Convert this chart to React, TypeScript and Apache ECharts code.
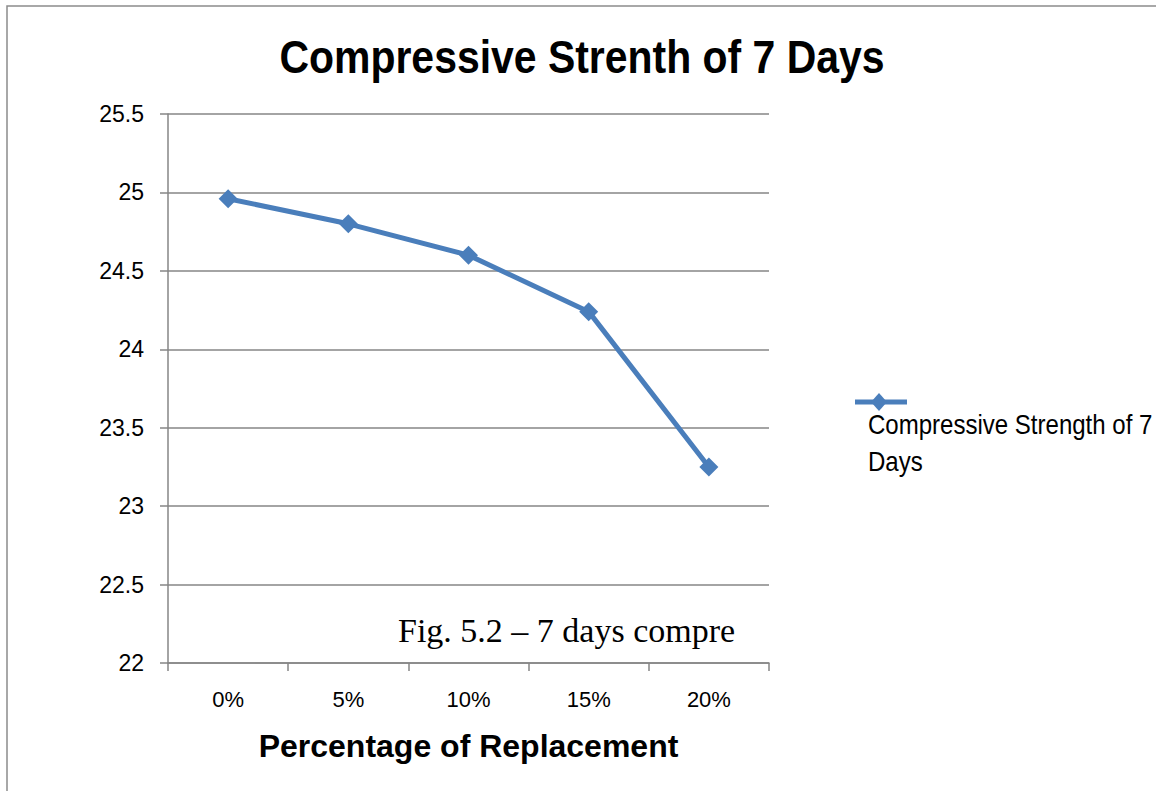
import React, { useEffect, useRef } from "react";
import * as echarts from "echarts";

const categories = ["0%", "5%", "10%", "15%", "20%"];
const values = [24.96, 24.8, 24.6, 24.24, 23.25];
const seriesName = "Compressive Strength of 7 Days";
const titleText = "Compressive Strenth of 7 Days";
const xAxisName = "Percentage of Replacement";
const figText = "Fig. 5.2 – 7 days compre";
const legendText = "Compressive Strength of 7\nDays";

const SANS = "'Liberation Sans Narrow', 'Arial Narrow', 'Liberation Sans', Arial, sans-serif";
const BLUE = "#4A7EBB";
const GRID = "#868686";

export default function App() {
  const ref = useRef<HTMLDivElement>(null);
  useEffect(() => {
    if (!ref.current) return;
    const chart = echarts.init(ref.current, null, { renderer: "svg" });
    chart.setOption({
      animation: false,
      backgroundColor: "#ffffff",
      grid: { left: 168, right: 387, top: 114, bottom: 128 },
      xAxis: {
        type: "category",
        data: categories,
        boundaryGap: true,
        name: xAxisName,
        nameLocation: "middle",
        nameGap: 67,
        nameTextStyle: { fontFamily: SANS, fontWeight: "bold", fontSize: 32, color: "#000" },
        axisLine: { lineStyle: { color: GRID, width: 1.5 } },
        axisTick: { show: true, length: 8, lineStyle: { color: GRID, width: 1.5 } },
        axisLabel: { fontFamily: SANS, fontSize: 22, color: "#000", margin: 25 },
      },
      yAxis: {
        type: "value",
        min: 22,
        max: 25.5,
        interval: 0.5,
        axisLine: { show: true, lineStyle: { color: GRID, width: 1.5 } },
        axisTick: { show: true, length: 8, lineStyle: { color: GRID, width: 1.5 } },
        axisLabel: { fontFamily: SANS, fontSize: 23, color: "#000", margin: 24 },
        splitLine: { show: true, lineStyle: { color: GRID, width: 1.5 } },
      },
      series: [
        {
          name: seriesName,
          type: "line",
          data: values,
          symbol: "diamond",
          symbolSize: 19,
          lineStyle: { color: BLUE, width: 5 },
          itemStyle: { color: BLUE },
        },
      ],
      graphic: [
        {
          type: "rect",
          shape: { x: 7, y: 6, width: 1300, height: 1000 },
          style: { fill: "none", stroke: "#8c8c8c", lineWidth: 1.5 },
          silent: true,
        },
        {
          type: "text",
          x: 582,
          y: 57,
          scaleX: 0.89,
          style: {
            text: titleText,
            font: "bold 46px " + SANS,
            fill: "#000",
            align: "center",
            verticalAlign: "middle",
          },
        },
        {
          type: "text",
          x: 398,
          y: 630,
          style: {
            text: figText,
            font: "34px 'Liberation Serif', 'Times New Roman', serif",
            fill: "#000",
            verticalAlign: "middle",
          },
        },
        {
          type: "line",
          shape: { x1: 855, y1: 402, x2: 907, y2: 402 },
          style: { stroke: BLUE, lineWidth: 5 },
        },
        {
          type: "polygon",
          shape: { points: [[879, 393], [887, 402], [879, 411], [871, 402]] },
          style: { fill: BLUE },
        },
        {
          type: "text",
          x: 868,
          y: 406,
          scaleX: 0.89,
          style: {
            text: legendText,
            font: "27px " + SANS,
            lineHeight: 37,
            fill: "#000",
            verticalAlign: "top",
          },
        },
      ],
    });
    return () => chart.dispose();
  }, []);
  return (
    <div
      ref={ref}
      style={{ position: "absolute", left: 0, top: 0, width: 1156, height: 791 }}
    />
  );
}
